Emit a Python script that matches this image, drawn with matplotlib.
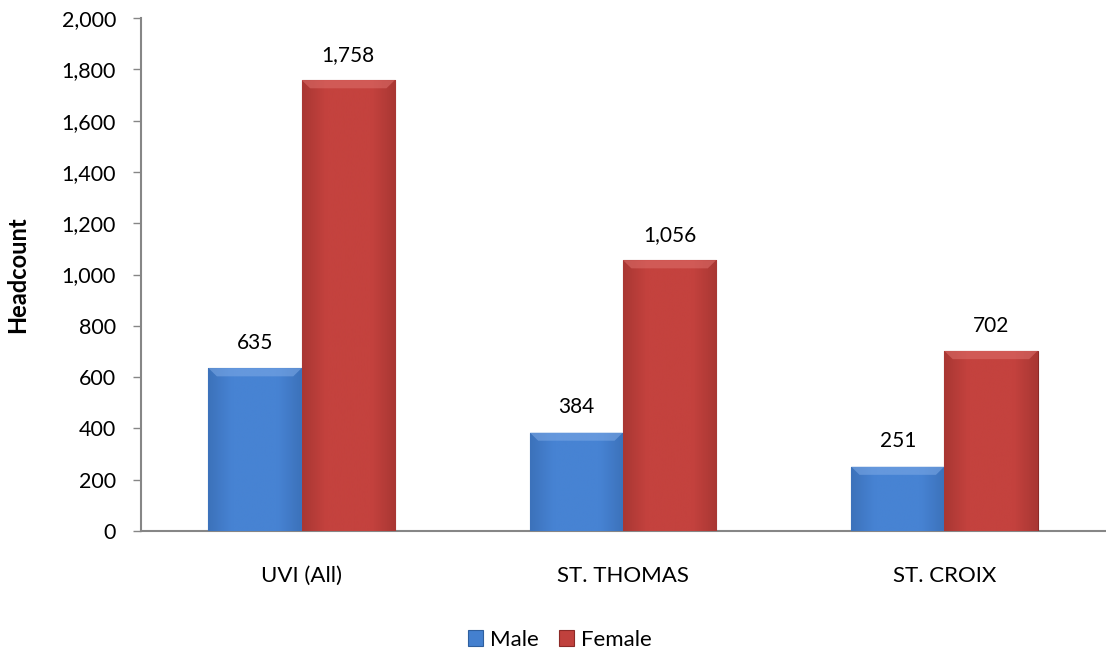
import matplotlib
matplotlib.use("Agg")
import matplotlib.pyplot as plt
import numpy as np
from matplotlib.ticker import FuncFormatter, MultipleLocator
from matplotlib.colors import LinearSegmentedColormap

categories = ["UVI (All)", "ST. THOMAS", "ST. CROIX"]
male = [635, 384, 251]
female = [1758, 1056, 702]
series_names = ["Male", "Female"]

plt.rcParams['font.family'] = ['Lato', 'DejaVu Sans']

fig = plt.figure(figsize=(11.06, 6.55), dpi=100)
ax = fig.add_axes([141/1106, 1-531/655, (1105-141)/1106, (531-18)/655])

x = np.arange(len(categories))
w = 0.29
blue_face, blue_edge = "#4480cf", "#2f5f9e"
red_face, red_edge = "#c0413d", "#8c2a27"

bm = ax.bar(x - w/2, male, w, color=blue_face, edgecolor=blue_edge, linewidth=0.8, label=series_names[0], zorder=3)
bf = ax.bar(x + w/2, female, w, color=red_face, edgecolor=red_edge, linewidth=0.8, label=series_names[1], zorder=3)

# gradient fill (subtle horizontal shading) clipped to each bar
cm_blue = LinearSegmentedColormap.from_list("b", ["#3c72bb", "#4783d3", "#4783d3", "#4783d3", "#3c72bb"])
cm_red = LinearSegmentedColormap.from_list("r", ["#a93733", "#c4423e", "#c4423e", "#c4423e", "#a93733"])
grad = np.linspace(0, 1, 64).reshape(1, -1)
for bars, cmap, hl in ((bm, cm_blue, "#7eaae6"), (bf, cm_red, "#dd6f6b")):
    for b in bars:
        bx, bw, bh = b.get_x(), b.get_width(), b.get_height()
        im = ax.imshow(grad, cmap=cmap, aspect="auto", extent=[bx, bx + bw, 0, bh],
                       zorder=3.5, interpolation="bicubic")
        im.set_clip_path(b)
        dx = bw * 0.09
        dy = 2000 * 0.016
        ax.fill([bx, bx + bw, bx + bw - dx, bx + dx], [bh, bh, bh - dy, bh - dy],
                color=hl, alpha=0.55, zorder=4, linewidth=0)

for bars, vals in ((bm, male), (bf, female)):
    for b, v in zip(bars, vals):
        ax.text(b.get_x() + b.get_width()/2, v + 60, f"{v:,}",
                ha="center", va="bottom", fontsize=15, color="black")

ax.set_xlim(-0.5, 2.5)
ax.set_ylim(0, 2000)
ax.yaxis.set_major_locator(MultipleLocator(200))
ax.yaxis.set_major_formatter(FuncFormatter(lambda v, p: f"{int(v):,}"))
ax.set_xticks(x)
ax.set_xticklabels(categories, fontsize=16)
ax.tick_params(axis='x', length=0, pad=25)
ax.tick_params(axis='y', labelsize=15.5, length=6, width=1, color="#868686", pad=12)
for s in ("top", "right"):
    ax.spines[s].set_visible(False)
for s in ("left", "bottom"):
    ax.spines[s].set_color("#868686")
    ax.spines[s].set_linewidth(1.5)

ax.set_ylabel("Headcount", fontsize=17, fontweight="bold")
ax.yaxis.set_label_coords(-0.116, 0.5)

leg = fig.legend(handles=[bm, bf], labels=series_names, loc="center", bbox_to_anchor=(0.506, 1-640/655),
                 ncol=2, frameon=False, fontsize=16, handlelength=0.7, handleheight=0.7,
                 handletextpad=0.3, columnspacing=0.9)

fig.savefig("out.png", dpi=100)
